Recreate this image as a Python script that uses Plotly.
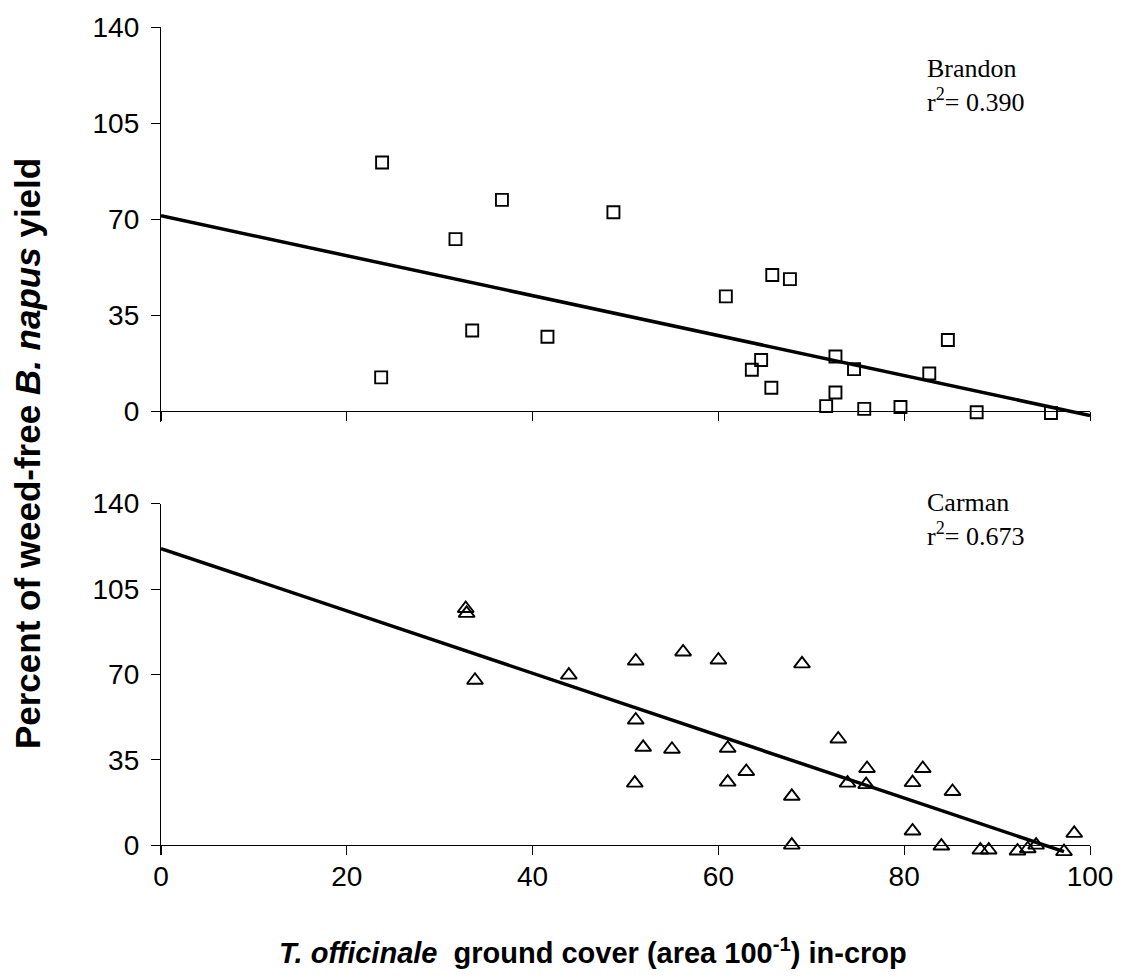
import plotly.graph_objects as go

# Brandon data (top panel)
brandon_x = [23.8, 23.7, 31.7, 33.5, 36.7, 41.6, 48.7, 60.8, 63.6, 64.6, 65.8, 65.7,
             67.7, 71.6, 72.6, 72.6, 74.6, 75.7, 79.6, 82.7, 84.7, 87.8, 95.8]
brandon_y = [90.6, 12.3, 62.7, 29.4, 77.0, 27.1, 72.5, 41.8, 15.1, 18.6, 49.6, 8.5,
             48.1, 1.8, 19.9, 6.8, 15.3, 0.8, 1.5, 13.7, 25.9, -0.4, -0.7]
brandon_fit_x = [0, 100]
brandon_fit_y = [71.2, -1.6]

# Carman data (bottom panel)
carman_x = [32.8, 32.9, 33.8, 43.9, 51.1, 51.1, 51.9, 51.0, 55.0, 56.2, 60.0, 61.0,
            61.0, 63.0, 67.9, 67.9, 69.0, 72.9, 73.9, 76.0, 75.9, 80.9, 82.0, 85.2,
            80.9, 84.0, 88.2, 89.1, 92.2, 93.3, 94.2, 97.2, 98.3]
carman_y = [97.0, 95.0, 67.6, 69.7, 75.5, 51.3, 40.1, 25.4, 39.3, 79.2, 75.9, 39.7,
            25.8, 30.2, 20.0, 0.0, 74.3, 43.5, 25.4, 31.4, 24.8, 25.6, 31.4, 22.0,
            5.8, -0.4, -2.0, -2.0, -2.4, -1.5, 0.0, -2.7, 4.8]
carman_fit_x = [0, 97.2]
carman_fit_y = [121.6, -2.7]

x_ticks = [0, 20, 40, 60, 80, 100]
y_ticks = [0, 35, 70, 105, 140]

fig = go.Figure()

fig.add_trace(go.Scatter(x=brandon_x, y=brandon_y, mode="markers", xaxis="x", yaxis="y",
                         marker=dict(symbol="square-open", size=12, color="black",
                                     line=dict(width=1.9, color="black")),
                         cliponaxis=False, showlegend=False))
fig.add_trace(go.Scatter(x=brandon_fit_x, y=brandon_fit_y, mode="lines", xaxis="x", yaxis="y",
                         line=dict(color="black", width=3.5), cliponaxis=False, showlegend=False))
fig.add_trace(go.Scatter(x=carman_x, y=carman_y, mode="markers", xaxis="x2", yaxis="y2",
                         marker=dict(symbol="triangle-up-open", size=14, color="black",
                                     line=dict(width=1.9, color="black")),
                         cliponaxis=False, showlegend=False))
fig.add_trace(go.Scatter(x=carman_fit_x, y=carman_fit_y, mode="lines", xaxis="x2", yaxis="y2",
                         line=dict(color="black", width=3.5), cliponaxis=False, showlegend=False))

tickfont = dict(family="Liberation Sans, Arial, sans-serif", size=28, color="black")
xcommon = dict(range=[0, 100], tickvals=x_ticks, showline=True, linecolor="black", linewidth=1.3,
               ticks="outside", ticklen=9, tickcolor="black", tickwidth=1.3,
               showgrid=False, zeroline=False, tickfont=tickfont, ticklabelstandoff=-3)
ycommon = dict(range=[-4, 140], tickvals=y_ticks, showline=True, linecolor="black", linewidth=1.3,
               ticks="outside", ticklen=9, tickcolor="black", tickwidth=1.3,
               showgrid=False, zeroline=False, tickfont=tickfont, ticklabelstandoff=6)

fig.update_layout(
    width=1131, height=978,
    paper_bgcolor="white", plot_bgcolor="white",
    margin=dict(l=161, r=41, t=23, b=121),
    xaxis=dict(**xcommon, anchor="free", position=0.5372, domain=[0, 1], showticklabels=False),
    yaxis=dict(**ycommon, anchor="x", domain=[0.5240, 1.0]),
    xaxis2=dict(**xcommon, anchor="free", position=0.01439, domain=[0, 1], showticklabels=True),
    yaxis2=dict(**ycommon, anchor="x2", domain=[0.0026, 0.4257]),
    annotations=[
        dict(text="Brandon<br>r<sup>2</sup>= 0.390", xref="x", yref="y", x=82.2, y=118.5,
             xanchor="left", yanchor="middle", align="left", showarrow=False,
             font=dict(family="Liberation Serif, Times New Roman, serif", size=26, color="black")),
        dict(text="Carman<br>r<sup>2</sup>= 0.673", xref="x2", yref="y2", x=82.2, y=133.5,
             xanchor="left", yanchor="middle", align="left", showarrow=False,
             font=dict(family="Liberation Serif, Times New Roman, serif", size=26, color="black")),
        dict(text="<i>T. officinale</i>  ground cover (area 100<sup>-1</sup>) in-crop",
             xref="paper", yref="paper", x=0.465, y=-0.1127, xanchor="center", yanchor="middle",
             showarrow=False,
             font=dict(family="Liberation Sans, Arial, sans-serif", size=29, color="black", weight="bold")),
        dict(text="Percent of weed-free <i>B. napus</i> yield",
             xref="paper", yref="paper", x=-0.143, y=0.4856, xanchor="center", yanchor="middle",
             textangle=-90, showarrow=False,
             font=dict(family="Liberation Sans, Arial, sans-serif", size=35, color="black", weight="bold")),
    ],
)

fig.write_html("out.html")
